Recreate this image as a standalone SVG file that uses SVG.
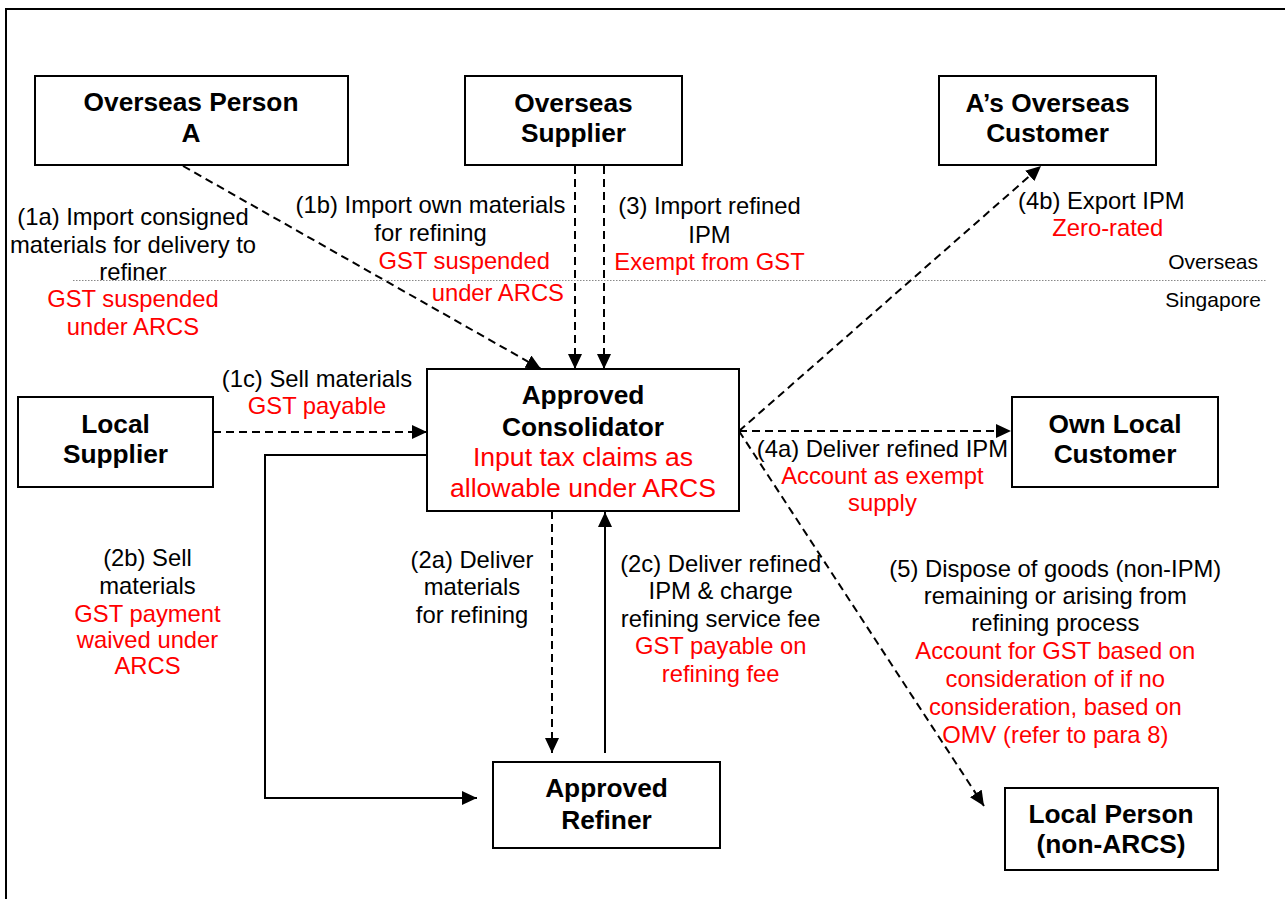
<svg xmlns="http://www.w3.org/2000/svg" width="1285" height="899" viewBox="0 0 1285 899">
<style>
.box{fill:#fff;stroke:#000;stroke-width:2}
.nt{font-family:"Liberation Sans",Arial,sans-serif;font-weight:bold;font-size:26.3px;text-anchor:middle;fill:#000}
.nr{font-family:"Liberation Sans",Arial,sans-serif;font-size:26.6px;text-anchor:middle;fill:#ff0000}
.lb{font-family:"Liberation Sans",Arial,sans-serif;font-size:23.8px;text-anchor:middle;fill:#000}
.rd{fill:#ff0000}
.zn{font-family:"Liberation Sans",Arial,sans-serif;font-size:21px;text-anchor:end;fill:#000}
.dash{fill:none;stroke:#000;stroke-width:2;stroke-dasharray:8,5}
.solid{fill:none;stroke:#000;stroke-width:2}
</style>
<defs>
<marker id="ah" markerUnits="userSpaceOnUse" markerWidth="16" markerHeight="15" refX="15" refY="7" orient="auto">
<path d="M0,0 L15,7 L0,14 z" fill="#000"/>
</marker>
</defs>
<rect width="1285" height="899" fill="#fff"/>
<path d="M6,899 V9 H1285" fill="none" stroke="#000" stroke-width="2"/>
<line x1="73" y1="280.5" x2="1266" y2="280.5" stroke="#888" stroke-width="1" stroke-dasharray="1.5,1.5"/>
<text class="zn" x="1258" y="269">Overseas</text>
<text class="zn" x="1261" y="307">Singapore</text>

<g id="connectors">
<line class="dash" x1="183" y1="166" x2="541" y2="369" marker-end="url(#ah)"/>
<line class="dash" x1="575" y1="166" x2="575" y2="369" marker-end="url(#ah)"/>
<line class="dash" x1="604" y1="166" x2="604" y2="369" marker-end="url(#ah)"/>
<line class="dash" x1="213" y1="432" x2="427" y2="432" marker-end="url(#ah)"/>
<line class="dash" x1="739" y1="431" x2="1041" y2="166" marker-end="url(#ah)"/>
<line class="dash" x1="739" y1="431" x2="1011" y2="431" marker-end="url(#ah)"/>
<line class="dash" x1="739" y1="431" x2="984" y2="806" marker-end="url(#ah)"/>
<line class="dash" x1="552" y1="511" x2="552" y2="753" marker-end="url(#ah)"/>
<line class="solid" x1="605" y1="753" x2="605" y2="512" marker-end="url(#ah)"/>
<path class="solid" d="M427,455 H265 V798 H477" marker-end="url(#ah)"/>
</g>

<g id="overseas-person-a">
<rect class="box" x="35" y="76" width="313" height="89"/>
<text class="nt" x="191" y="111">Overseas Person</text>
<text class="nt" x="191" y="142">A</text>
</g>
<g id="overseas-supplier">
<rect class="box" x="465" y="76" width="217" height="89"/>
<text class="nt" x="573.5" y="111.5">Overseas</text>
<text class="nt" x="573.5" y="141.5">Supplier</text>
</g>
<g id="a-overseas-customer">
<rect class="box" x="939" y="76" width="217" height="89"/>
<text class="nt" x="1047.5" y="111.5">A’s Overseas</text>
<text class="nt" x="1047.5" y="142">Customer</text>
</g>
<g id="local-supplier">
<rect class="box" x="18" y="397" width="195" height="90"/>
<text class="nt" x="115.5" y="432.5">Local</text>
<text class="nt" x="115.5" y="463">Supplier</text>
</g>
<g id="approved-consolidator">
<rect class="box" x="427" y="369" width="312" height="142"/>
<text class="nt" x="583" y="404.3">Approved</text>
<text class="nt" x="583" y="436">Consolidator</text>
<text class="nr" x="583" y="465.7">Input tax claims as</text>
<text class="nr" x="583" y="496.7">allowable under ARCS</text>
</g>
<g id="own-local-customer">
<rect class="box" x="1012" y="397" width="206" height="90"/>
<text class="nt" x="1115" y="433.3">Own Local</text>
<text class="nt" x="1115" y="463.3">Customer</text>
</g>
<g id="approved-refiner">
<rect class="box" x="493" y="762" width="227" height="86"/>
<text class="nt" x="606.5" y="797.3">Approved</text>
<text class="nt" x="606.5" y="828.7">Refiner</text>
</g>
<g id="local-person">
<rect class="box" x="1005" y="788" width="213" height="82"/>
<text class="nt" x="1111" y="823.3">Local Person</text>
<text class="nt" x="1111" y="853.3">(non-ARCS)</text>
</g>

<g id="labels">
<text class="lb" x="133" y="225">(1a) Import consigned</text>
<text class="lb" x="133" y="252.5">materials for delivery to</text>
<text class="lb" x="133" y="279.5">refiner</text>
<text class="lb rd" x="133" y="307">GST suspended</text>
<text class="lb rd" x="133" y="334.5">under ARCS</text>

<text class="lb" x="430.5" y="213.3">(1b) Import own materials</text>
<text class="lb" x="430.5" y="241">for refining</text>
<text class="lb rd" x="464.3" y="269.3">GST suspended</text>
<text class="lb rd" x="497.8" y="300.7">under ARCS</text>

<text class="lb" x="709.5" y="214.3">(3) Import refined</text>
<text class="lb" x="709.5" y="242.7">IPM</text>
<text class="lb rd" x="709.5" y="270">Exempt from GST</text>

<text class="lb" x="1101.3" y="209">(4b) Export IPM</text>
<text class="lb rd" x="1107.8" y="236">Zero-rated</text>

<text class="lb" x="317" y="386.7">(1c) Sell materials</text>
<text class="lb rd" x="317" y="414.3">GST payable</text>

<text class="lb" x="147.5" y="566">(2b) Sell</text>
<text class="lb" x="147.5" y="594.3">materials</text>
<text class="lb rd" x="147.5" y="621.7">GST payment</text>
<text class="lb rd" x="147.5" y="648.3">waived under</text>
<text class="lb rd" x="147.5" y="674.3">ARCS</text>

<text class="lb" x="472" y="568.3">(2a) Deliver</text>
<text class="lb" x="472" y="595">materials</text>
<text class="lb" x="472" y="622.7">for refining</text>

<text class="lb" x="720.7" y="571.7">(2c) Deliver refined</text>
<text class="lb" x="720.7" y="599.3">IPM &amp; charge</text>
<text class="lb" x="720.7" y="626.7">refining service fee</text>
<text class="lb rd" x="720.7" y="654">GST payable on</text>
<text class="lb rd" x="720.7" y="681.7">refining fee</text>

<text class="lb" x="882.4" y="456.7">(4a) Deliver refined IPM</text>
<text class="lb rd" x="882.4" y="484">Account as exempt</text>
<text class="lb rd" x="882.4" y="511">supply</text>

<text class="lb" x="1055.3" y="576.7">(5) Dispose of goods (non-IPM)</text>
<text class="lb" x="1055.3" y="604">remaining or arising from</text>
<text class="lb" x="1055.3" y="630.7">refining process</text>
<text class="lb rd" x="1055.3" y="659.3">Account for GST based on</text>
<text class="lb rd" x="1055.3" y="686.7">consideration of if no</text>
<text class="lb rd" x="1055.3" y="715">consideration, based on</text>
<text class="lb rd" x="1055.3" y="743.3">OMV (refer to para 8)</text>
</g>
</svg>
